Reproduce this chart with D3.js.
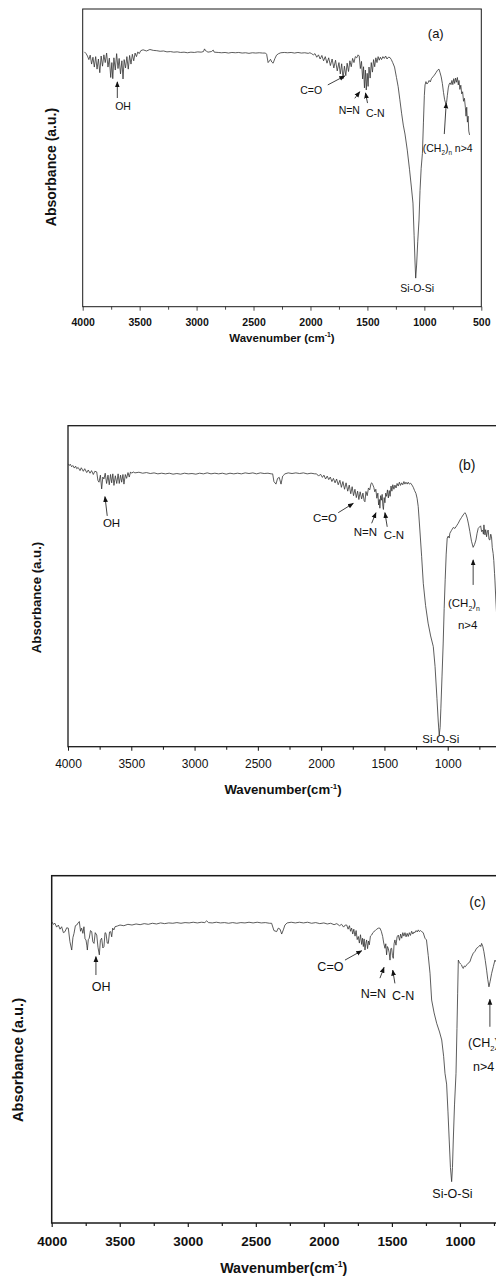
<!DOCTYPE html>
<html>
<head>
<meta charset="utf-8">
<script src="https://cdn.jsdelivr.net/npm/d3@7"></script>
<style>
  html, body { margin: 0; padding: 0; background: #fff; }
  svg { display: block; font-family: "Liberation Sans", Arial, Helvetica, sans-serif; }
</style>
</head>
<body>
<svg id="chart" width="496" height="1279"></svg>
<script>
// ---- spectra: [wavenumber (cm-1), absorbance (a.u.)] ----
const specA = [
  [3985, 85.6], [3970, 85.0], [3958, 84.2], [3946, 83.0], [3934, 84.5], [3922, 81.5], [3910, 83.8],
  [3898, 80.5], [3886, 84.0], [3874, 79.8], [3862, 83.2], [3850, 78.6], [3838, 84.2], [3826, 80.8],
  [3814, 84.6], [3802, 82.0], [3790, 85.2], [3778, 80.5], [3766, 83.5], [3754, 77.0], [3744, 82.0],
  [3736, 76.6], [3726, 83.6], [3714, 79.5], [3702, 85.0], [3690, 80.0], [3680, 83.4], [3668, 78.2],
  [3656, 82.6], [3646, 76.5], [3636, 83.0], [3624, 80.2], [3612, 84.0], [3600, 79.8], [3588, 84.4],
  [3576, 81.5], [3564, 84.8], [3552, 82.6], [3540, 85.2], [3528, 84.0], [3516, 85.6], [3504, 85.0],
  [3490, 86.0], [3470, 86.3], [3440, 85.9], [3410, 86.4], [3380, 86.1], [3350, 86.0], [3320, 85.8],
  [3290, 85.9], [3260, 85.6], [3230, 85.7], [3200, 85.5], [3170, 85.6], [3140, 85.4], [3110, 85.5],
  [3080, 85.3], [3050, 85.5], [3020, 85.4], [2990, 85.6], [2960, 85.5], [2940, 85.7], [2930, 86.6],
  [2922, 86.0], [2912, 85.8], [2900, 85.5], [2870, 85.7], [2854, 86.2], [2845, 85.5], [2810, 85.4],
  [2780, 85.3], [2750, 85.4], [2720, 85.2], [2690, 85.4], [2660, 85.3], [2630, 85.4], [2600, 85.2],
  [2570, 85.3], [2540, 85.1], [2510, 85.3], [2480, 85.2], [2450, 85.3], [2420, 85.2], [2395, 85.2],
  [2385, 84.8], [2372, 82.0], [2360, 82.6], [2351, 83.1], [2340, 82.2], [2328, 81.8], [2312, 83.4],
  [2298, 84.5], [2280, 85.0], [2260, 85.3], [2230, 85.4], [2200, 85.3], [2170, 85.4], [2140, 85.2],
  [2110, 85.4], [2080, 85.2], [2050, 85.3], [2020, 85.1], [2005, 85.3], [1990, 85.0], [1975, 84.6],
  [1960, 85.0], [1945, 83.8], [1930, 84.6], [1915, 83.2], [1900, 84.4], [1885, 82.6], [1870, 84.0],
  [1855, 81.8], [1840, 83.6], [1825, 81.0], [1810, 83.2], [1795, 80.2], [1780, 82.8], [1765, 79.2],
  [1750, 82.0], [1738, 78.2], [1726, 81.6], [1714, 76.6], [1702, 80.8], [1690, 77.6], [1678, 81.8],
  [1666, 79.0], [1654, 82.6], [1642, 80.6], [1630, 83.4], [1618, 82.0], [1606, 84.0], [1594, 83.6],
  [1582, 84.6], [1572, 84.2], [1562, 80.0], [1552, 82.4], [1542, 76.5], [1534, 80.6], [1526, 73.5],
  [1518, 79.5], [1510, 72.8], [1502, 78.4], [1494, 74.0], [1486, 80.5], [1476, 76.8], [1466, 82.0],
  [1456, 78.8], [1446, 83.0], [1436, 80.6], [1426, 83.6], [1416, 82.0], [1406, 84.0], [1396, 82.8],
  [1386, 83.8], [1376, 83.0], [1364, 84.0], [1352, 83.4], [1340, 84.2], [1328, 83.2], [1316, 83.8],
  [1302, 83.7], [1290, 83.0], [1278, 82.0], [1262, 80.5], [1245, 77.0], [1230, 73.9], [1215, 69.5],
  [1200, 65.0], [1185, 61.0], [1170, 58.0], [1150, 52.6], [1130, 46.0], [1114, 40.2], [1100, 34.8],
  [1090, 24.0], [1082, 15.0], [1076, 9.6], [1068, 14.0], [1058, 22.0], [1047, 29.1], [1038, 39.0],
  [1028, 46.5], [1017, 51.5], [1008, 62.0], [1000, 71.0], [994, 74.5], [986, 75.6], [978, 74.8],
  [968, 75.2], [958, 76.0], [948, 75.5], [938, 76.6], [925, 77.2], [912, 77.8], [898, 78.6],
  [885, 79.4], [872, 79.8], [862, 78.6], [852, 77.2], [842, 75.0], [832, 72.0], [822, 69.5],
  [812, 68.2], [805, 68.6], [798, 71.0], [790, 73.5], [782, 74.8], [774, 75.2], [766, 74.6],
  [758, 76.0], [750, 74.6], [742, 76.6], [734, 75.0], [726, 76.8], [718, 75.4], [710, 77.0],
  [702, 74.5], [696, 76.0], [688, 73.0], [680, 74.4], [672, 71.5], [664, 72.2], [656, 69.0],
  [648, 70.0], [640, 67.0], [634, 64.0], [628, 67.0], [622, 62.0], [616, 64.0], [610, 59.0],
  [603, 57.7]
];

const specB = [
  [3998, 88.1], [3990, 87.6], [3982, 88.0], [3971, 87.2], [3962, 87.6], [3950, 86.8], [3940, 87.4],
  [3931, 86.6], [3920, 87.0], [3905, 86.0], [3895, 86.9], [3879, 85.8], [3868, 86.6], [3852, 85.4],
  [3840, 86.2], [3826, 85.2], [3814, 86.0], [3800, 84.8], [3788, 85.8], [3773, 85.6], [3764, 83.0],
  [3755, 82.4], [3744, 84.6], [3734, 80.3], [3725, 84.0], [3716, 83.4], [3706, 85.2], [3695, 82.0],
  [3684, 84.6], [3674, 81.6], [3664, 84.8], [3655, 82.2], [3646, 85.0], [3637, 81.4], [3626, 84.4],
  [3615, 82.0], [3604, 85.0], [3595, 82.0], [3585, 84.6], [3576, 82.4], [3566, 84.8], [3558, 81.8],
  [3547, 84.8], [3537, 83.6], [3526, 85.4], [3516, 84.0], [3506, 85.6], [3497, 85.2], [3485, 85.6],
  [3471, 85.3], [3440, 85.5], [3410, 85.2], [3380, 85.4], [3350, 85.1], [3320, 85.3], [3290, 85.0],
  [3260, 85.2], [3230, 85.0], [3200, 85.2], [3170, 84.9], [3140, 85.1], [3110, 84.9], [3080, 85.2],
  [3050, 85.0], [3020, 85.1], [2990, 84.9], [2960, 85.2], [2930, 85.0], [2900, 85.3], [2870, 85.0],
  [2840, 85.2], [2810, 85.0], [2780, 85.2], [2750, 84.9], [2720, 85.2], [2690, 85.0], [2660, 85.2],
  [2630, 85.0], [2600, 85.3], [2570, 85.1], [2540, 85.3], [2510, 85.0], [2480, 85.3], [2450, 85.1],
  [2420, 85.2], [2395, 85.0], [2383, 85.0], [2373, 82.6], [2357, 81.8], [2344, 83.6], [2331, 83.9],
  [2317, 81.8], [2304, 84.3], [2286, 85.0], [2260, 85.3], [2230, 85.1], [2200, 85.3], [2170, 85.1],
  [2140, 85.3], [2110, 85.0], [2080, 85.2], [2050, 85.0], [2036, 85.0], [2020, 84.3], [2005, 84.9],
  [1990, 83.9], [1978, 84.6], [1965, 83.4], [1952, 84.3], [1940, 83.2], [1928, 84.0], [1915, 82.6],
  [1903, 83.6], [1890, 82.2], [1878, 83.4], [1865, 81.6], [1852, 83.0], [1840, 80.8], [1828, 82.6],
  [1815, 80.2], [1803, 82.2], [1790, 79.6], [1778, 81.5], [1766, 78.8], [1755, 81.0], [1744, 78.2],
  [1733, 80.2], [1722, 77.6], [1712, 79.6], [1702, 77.0], [1692, 79.4], [1680, 77.2], [1670, 79.0],
  [1660, 76.6], [1654, 76.3], [1646, 79.5], [1636, 78.2], [1626, 80.6], [1616, 80.0], [1606, 82.0],
  [1600, 82.2], [1592, 81.6], [1584, 80.8], [1576, 79.4], [1568, 80.2], [1560, 77.4], [1552, 79.0],
  [1546, 75.3], [1540, 77.0], [1536, 74.3], [1530, 78.2], [1524, 76.8], [1518, 78.6], [1512, 74.8],
  [1508, 73.9], [1502, 77.6], [1496, 76.0], [1490, 79.0], [1483, 78.0], [1476, 80.0], [1469, 77.5],
  [1462, 79.8], [1455, 78.0], [1448, 81.2], [1441, 79.6], [1434, 81.6], [1425, 80.2], [1417, 81.5],
  [1408, 80.6], [1400, 82.0], [1391, 81.2], [1382, 82.4], [1373, 81.4], [1364, 82.2], [1355, 81.6],
  [1346, 82.6], [1338, 81.8], [1330, 82.4], [1320, 81.8], [1312, 82.4], [1303, 81.8], [1293, 82.1],
  [1282, 81.5], [1272, 80.8], [1262, 79.8], [1251, 78.9], [1242, 77.4], [1233, 74.8], [1220, 67.5],
  [1206, 59.2], [1193, 50.9], [1175, 44.0], [1155, 38.5], [1135, 34.5], [1114, 31.2], [1100, 25.0],
  [1085, 15.0], [1075, 8.0], [1067, 3.6], [1060, 6.0], [1054, 12.0], [1045, 22.0], [1036, 32.0],
  [1028, 43.0], [1020, 52.0], [1012, 60.0], [1004, 65.0], [996, 65.6], [988, 65.0], [983, 66.5],
  [970, 67.4], [956, 68.3], [943, 68.0], [930, 68.8], [917, 69.6], [904, 70.6], [891, 71.4],
  [878, 72.2], [870, 72.6], [864, 72.9], [856, 72.4], [846, 71.2], [836, 69.4], [825, 67.0],
  [812, 64.0], [799, 62.1], [788, 63.0], [777, 64.4], [768, 66.5], [759, 68.0], [750, 68.4],
  [740, 68.8], [732, 67.0], [724, 67.5], [718, 66.2], [714, 69.1], [706, 66.0], [700, 67.6],
  [693, 65.4], [686, 67.2], [680, 67.5], [674, 64.6], [667, 64.4], [660, 66.2], [654, 65.4],
  [648, 62.0], [641, 60.2], [636, 58.0], [630, 54.0], [627, 51.9], [620, 46.0], [612, 40.0],
  [605, 36.0], [600, 33.0]
];

const specC = [
  [4000, 86.8], [3988, 86.0], [3976, 86.3], [3964, 85.2], [3951, 85.8], [3939, 84.6], [3927, 85.3],
  [3914, 83.6], [3902, 83.9], [3890, 85.0], [3878, 84.9], [3866, 81.0], [3853, 78.6], [3844, 82.2],
  [3836, 83.4], [3826, 85.6], [3816, 85.8], [3806, 86.4], [3797, 86.8], [3788, 84.0], [3780, 84.9],
  [3771, 83.4], [3763, 85.3], [3755, 81.8], [3748, 81.5], [3742, 80.0], [3738, 78.6], [3731, 81.6],
  [3724, 82.0], [3715, 84.2], [3706, 83.9], [3698, 81.0], [3689, 80.5], [3680, 83.6], [3669, 82.9],
  [3660, 79.4], [3650, 77.2], [3642, 81.4], [3633, 82.0], [3624, 79.2], [3616, 79.6], [3608, 83.6],
  [3601, 83.4], [3592, 80.6], [3584, 80.5], [3575, 83.8], [3567, 83.9], [3559, 82.4], [3552, 84.9],
  [3543, 84.4], [3535, 85.3], [3518, 85.5], [3498, 85.8], [3470, 85.6], [3440, 86.0], [3410, 85.8],
  [3380, 86.1], [3350, 85.9], [3320, 86.2], [3290, 86.0], [3260, 86.3], [3230, 86.1], [3200, 86.4],
  [3170, 86.2], [3140, 86.4], [3110, 86.3], [3080, 86.5], [3050, 86.3], [3020, 86.5], [2990, 86.4],
  [2960, 86.6], [2930, 86.4], [2900, 86.6], [2875, 86.5], [2861, 87.0], [2848, 86.5], [2820, 86.4],
  [2790, 86.6], [2760, 86.4], [2730, 86.5], [2700, 86.3], [2670, 86.5], [2640, 86.3], [2610, 86.5],
  [2580, 86.4], [2550, 86.6], [2520, 86.4], [2490, 86.6], [2460, 86.4], [2430, 86.5], [2400, 86.3],
  [2384, 86.3], [2367, 84.2], [2347, 83.9], [2335, 84.9], [2322, 84.6], [2310, 83.2], [2298, 84.4],
  [2286, 85.8], [2270, 86.4], [2240, 86.6], [2210, 86.4], [2180, 86.6], [2150, 86.4], [2120, 86.6],
  [2090, 86.3], [2060, 86.5], [2030, 86.2], [2000, 86.4], [1975, 86.1], [1950, 86.3], [1925, 85.9],
  [1905, 86.2], [1885, 85.6], [1870, 86.0], [1855, 85.2], [1843, 85.8], [1832, 85.8], [1822, 84.6],
  [1812, 85.6], [1804, 84.0], [1796, 84.9], [1788, 83.2], [1780, 84.6], [1771, 82.6], [1763, 84.2],
  [1755, 81.6], [1747, 82.5], [1739, 80.6], [1731, 83.0], [1722, 80.2], [1716, 82.0], [1710, 79.6],
  [1704, 81.8], [1698, 78.6], [1692, 80.4], [1686, 81.5], [1679, 79.0], [1672, 81.2], [1666, 80.1],
  [1658, 82.6], [1649, 82.9], [1640, 83.6], [1632, 83.9], [1622, 84.2], [1612, 84.6], [1600, 84.9],
  [1588, 84.9], [1578, 84.0], [1568, 82.5], [1560, 80.6], [1551, 79.1], [1545, 80.4], [1539, 77.2],
  [1533, 79.6], [1527, 79.1], [1520, 77.8], [1514, 75.7], [1508, 79.0], [1502, 79.1], [1496, 77.0],
  [1490, 76.2], [1484, 80.4], [1478, 81.5], [1470, 80.0], [1462, 82.4], [1453, 82.9], [1444, 81.4],
  [1436, 83.2], [1428, 82.0], [1420, 83.6], [1412, 82.6], [1404, 83.6], [1396, 82.4], [1388, 83.4],
  [1380, 82.5], [1372, 83.6], [1364, 82.8], [1355, 84.0], [1346, 83.2], [1338, 83.8], [1331, 83.6],
  [1322, 84.2], [1314, 83.8], [1306, 84.4], [1298, 83.9], [1290, 84.2], [1281, 83.9], [1270, 83.6],
  [1257, 82.0], [1246, 81.5], [1233, 77.0], [1220, 71.9], [1208, 64.2], [1190, 60.5], [1171, 57.5],
  [1150, 55.0], [1134, 52.7], [1120, 48.0], [1110, 43.1], [1098, 40.0], [1088, 32.0], [1079, 23.9],
  [1070, 16.0], [1061, 11.9], [1055, 16.0], [1049, 23.9], [1040, 34.0], [1029, 43.1], [1022, 56.0],
  [1017, 66.0], [1012, 75.7], [1004, 75.0], [996, 74.6], [988, 74.3], [982, 73.6], [976, 73.3],
  [968, 74.0], [960, 73.8], [951, 74.3], [940, 74.8], [927, 75.2], [915, 76.6], [902, 77.7],
  [890, 78.2], [878, 79.1], [866, 79.4], [853, 80.0], [847, 79.6], [841, 80.5], [832, 79.6],
  [824, 78.1], [814, 75.6], [804, 72.8], [796, 70.2], [787, 68.0], [778, 69.6], [767, 71.9],
  [755, 73.8], [743, 75.7], [730, 75.0], [720, 74.2], [710, 73.0]
];

// ---- axis ticks ----
const majorTicks = [4000, 3500, 3000, 2500, 2000, 1500, 1000, 500];
const minorTicks = [3750, 3250, 2750, 2250, 1750, 1250, 750];

// ---- peak labels: text, wavenumber, a.u. ("_x" = subscript) ----
const notesA = [
  ['(a)', 900, 91.9], ['OH', 3646, 67.4], ['C=O', 1994, 72.6], ['N=N', 1659, 66.1],
  ['C-N', 1431, 65.1], ['(CH_2)_n n>4', 1014, 53.3], ['Si-O-Si', 1062, 6.2]
];
const notesB = [
  ['(b)', 848, 87.8], ['OH', 3656, 69.8], ['C=O', 1970, 71.3], ['N=N', 1650, 67.0],
  ['C-N', 1425, 65.9], ['(CH_2)_n', 998, 44.7], ['n>4', 919, 37.9], ['Si-O-Si', 1055, 2.3]
];
const notesC = [
  ['(c)', 871, 92.5], ['OH', 3636, 68.0], ['C=O', 1952, 73.7], ['N=N', 1636, 66.1],
  ['C-N', 1417, 65.6], ['(CH_2)_n', 941, 51.9], ['n>4', 904, 45.0], ['Si-O-Si', 1055, 8.4]
];

// ---- arrows: [from, to] in wavenumber / a.u. ----
const arrowsA = [
  [[3696, 70.1], [3696, 75.5]], [[1848, 74.5], [1699, 77.5]], [[1611, 70.0], [1567, 72.2]],
  [[1499, 68.4], [1517, 71.8]], [[825, 58.0], [808, 68.4]]
];
const arrowsB = [
  [[3690, 71.9], [3708, 77.9]], [[1865, 72.9], [1746, 75.8]], [[1601, 69.6], [1567, 72.9]],
  [[1478, 68.5], [1496, 72.9]], [[799, 50.4], [799, 58.2]]
];
const arrowsC = [
  [[3675, 71.4], [3675, 76.7]], [[1845, 75.7], [1722, 78.4]], [[1588, 70.5], [1558, 73.6]],
  [[1478, 69.0], [1494, 72.8]], [[780, 56.5], [780, 64.4]]
];

// ---- layout ----
const W = 496;
const panels = [
  { data: specA, notes: notesA, arrows: arrowsA,
    left: 82.7, right: 481.3, top: 9, bottom: 306.7, frameW: 1,
    tickFont: 10.5, tickWeight: 'bold', tickOffset: 11.9,
    noteFont: 10.5, letterFont: 13,
    xTitle: 'Wavenumber (cm', xTitleX: 282, xTitleY: 338, xTitleFont: 11.5,
    yTitleX: 51, yTitleY: 167, yTitleFont: 14 },
  { data: specB, notes: notesB, arrows: arrowsB,
    left: 68, right: 511, top: 425.7, bottom: 746.7, frameW: 1.3,
    tickFont: 12, tickWeight: 'normal', tickOffset: 12.4,
    noteFont: 11.5, letterFont: 14,
    xTitle: 'Wavenumber(cm', xTitleX: 283, xTitleY: 789.3, xTitleFont: 13.2,
    yTitleX: 36, yTitleY: 597.5, yTitleFont: 13.2 },
  { data: specC, notes: notesC, arrows: arrowsC,
    left: 51.7, right: 528, top: 875.7, bottom: 1223, frameW: 1.5,
    tickFont: 13.5, tickWeight: 'bold', tickOffset: 13.3,
    noteFont: 12.5, letterFont: 14,
    xTitle: 'Wavenumber(cm', xTitleX: 283.7, xTitleY: 1267.7, xTitleFont: 14.3,
    yTitleX: 17.5, yTitleY: 1060, yTitleFont: 14.7 }
];

const svg = d3.select('#chart');

// arrow head
svg.append('defs').append('marker')
  .attr('id', 'head')
  .attr('viewBox', '0 0 10 10')
  .attr('refX', 9).attr('refY', 5)
  .attr('markerUnits', 'userSpaceOnUse')
  .attr('markerWidth', 6).attr('markerHeight', 6)
  .attr('orient', 'auto')
  .append('path')
  .attr('d', 'M0,1 L10,5 L0,9 Z')
  .attr('fill', '#111');

// write a label, "_x" turns the next char into a subscript
const writeLabel = (textSel, label, size) => {
  const parts = label.split(/(_.)/).filter(s => s.length);
  parts.forEach(s => {
    if (s[0] === '_') {
      textSel.append('tspan').text(s[1])
        .attr('font-size', size * 0.6)
        .attr('dy', size * 0.3);
    } else {
      const t = textSel.append('tspan').text(s);
      if (textSel.selectAll('tspan').size() > 1) t.attr('dy', -size * 0.3);
    }
  });
};

const drawPanel = (p) => {
  const x = d3.scaleLinear().domain([4000, 500]).range([p.left, p.right]);
  const y = d3.scaleLinear().domain([0, 100]).range([p.bottom, p.top]);
  const g = svg.append('g');

  // only the ticks that land inside the page
  const inPage = d => x(d) <= W - 2;

  // frame
  g.append('rect')
    .attr('x', p.left).attr('y', p.top)
    .attr('width', p.right - p.left).attr('height', p.bottom - p.top)
    .attr('fill', 'none').attr('stroke', '#1a1a1a').attr('stroke-width', p.frameW);

  // labelled ticks
  const major = g.append('g')
    .attr('transform', `translate(0,${p.bottom})`)
    .call(d3.axisBottom(x).tickValues(majorTicks.filter(inPage)).tickSize(4)
      .tickPadding(p.tickOffset - 4).tickFormat(d3.format('d')));
  major.select('.domain').remove();
  major.selectAll('line').attr('stroke', '#1a1a1a').attr('stroke-width', p.frameW * 0.8);
  major.selectAll('text')
    .attr('font-family', '"Liberation Sans", Arial, sans-serif')
    .attr('font-size', p.tickFont).attr('font-weight', p.tickWeight).attr('fill', '#111');

  // minor ticks
  const minor = g.append('g')
    .attr('transform', `translate(0,${p.bottom})`)
    .call(d3.axisBottom(x).tickValues(minorTicks.filter(inPage)).tickSize(3).tickFormat(''));
  minor.select('.domain').remove();
  minor.selectAll('line').attr('stroke', '#1a1a1a').attr('stroke-width', p.frameW * 0.8);

  // spectrum
  const line = d3.line().x(d => x(d[0])).y(d => y(d[1]));
  g.append('path').datum(p.data)
    .attr('d', line)
    .attr('fill', 'none')
    .attr('stroke', '#333')
    .attr('stroke-width', 0.8)
    .attr('stroke-linejoin', 'round');

  // peak labels
  p.notes.forEach(([label, w, v]) => {
    const isLetter = label[0] === '(' && label.length === 3;
    const isCh = label.indexOf('CH') >= 0 || label === 'n>4';
    const size = isLetter ? p.letterFont : p.noteFont;
    const t = g.append('text')
      .attr('x', x(w)).attr('y', y(v) + size * 0.35)
      .attr('font-size', size)
      .attr('fill', '#111')
      .attr('text-anchor', isCh ? 'start' : 'middle');
    writeLabel(t, label, size);
  });

  // arrows
  p.arrows.forEach(([a, b]) => {
    g.append('line')
      .attr('x1', x(a[0])).attr('y1', y(a[1]))
      .attr('x2', x(b[0])).attr('y2', y(b[1]))
      .attr('stroke', '#111').attr('stroke-width', 0.8)
      .attr('marker-end', 'url(#head)');
  });

  // x title with superscript -1
  const xt = g.append('text')
    .attr('x', p.xTitleX).attr('y', p.xTitleY + p.xTitleFont * 0.35)
    .attr('text-anchor', 'middle')
    .attr('font-size', p.xTitleFont).attr('font-weight', 'bold').attr('fill', '#111');
  xt.append('tspan').text(p.xTitle);
  xt.append('tspan').text('-1').attr('font-size', p.xTitleFont * 0.6).attr('dy', -p.xTitleFont * 0.4);
  xt.append('tspan').text(')').attr('dy', p.xTitleFont * 0.4);

  // y title
  g.append('text')
    .attr('transform', `translate(${p.yTitleX},${p.yTitleY}) rotate(-90)`)
    .attr('text-anchor', 'middle')
    .attr('dy', '0.35em')
    .attr('font-size', p.yTitleFont).attr('font-weight', 'bold').attr('fill', '#111')
    .text('Absorbance (a.u.)');
};

panels.forEach(drawPanel);
</script>
</body>
</html>
